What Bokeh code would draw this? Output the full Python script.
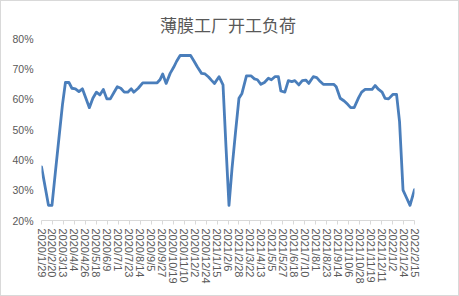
import pandas as pd
from bokeh.plotting import figure
from bokeh.models import Range1d, FixedTicker, PrintfTickFormatter, ColumnDataSource
from bokeh.embed import file_html
from bokeh.resources import INLINE
import math

title_text = "薄膜工厂开工负荷"

dates = [
    "2020-01-29", "2020-02-12", "2020-02-19", "2020-02-26", "2020-03-04", "2020-03-11",
    "2020-03-17", "2020-03-24", "2020-03-30", "2020-04-06", "2020-04-13", "2020-04-20",
    "2020-04-27", "2020-05-04", "2020-05-11", "2020-05-18", "2020-05-25", "2020-06-01",
    "2020-06-08", "2020-06-15", "2020-06-22", "2020-06-29", "2020-07-06", "2020-07-13",
    "2020-07-20", "2020-07-27", "2020-08-01", "2020-08-10", "2020-08-19", "2020-08-26",
    "2020-09-02", "2020-09-09", "2020-09-17", "2020-09-23", "2020-09-28", "2020-10-05",
    "2020-10-13", "2020-10-20", "2020-10-26", "2020-11-02", "2020-11-09", "2020-11-16",
    "2020-11-23", "2020-11-30", "2020-12-07", "2020-12-15", "2020-12-22", "2020-12-29",
    "2021-01-04", "2021-01-10", "2021-01-19", "2021-01-27", "2021-02-02", "2021-02-08",
    "2021-02-14", "2021-02-21", "2021-02-28", "2021-03-06", "2021-03-15", "2021-03-24",
    "2021-03-31", "2021-04-06", "2021-04-13", "2021-04-20", "2021-04-28", "2021-05-04",
    "2021-05-11", "2021-05-18", "2021-05-23", "2021-05-31", "2021-06-07", "2021-06-14",
    "2021-06-20", "2021-06-28", "2021-07-05", "2021-07-12", "2021-07-18", "2021-07-27",
    "2021-08-03", "2021-08-10", "2021-08-16", "2021-08-23", "2021-08-30", "2021-09-06",
    "2021-09-11", "2021-09-19", "2021-09-27", "2021-10-04", "2021-10-10", "2021-10-17",
    "2021-10-26", "2021-11-01", "2021-11-08", "2021-11-15", "2021-11-22", "2021-11-28",
    "2021-12-05", "2021-12-12", "2021-12-18", "2021-12-25", "2022-01-03", "2022-01-10",
    "2022-01-16", "2022-01-23", "2022-01-30", "2022-02-06", "2022-02-15",
]

load_pct = [
    37.7, 25.0, 25.0, 36.2, 47.2, 58.1,
    65.5, 65.5, 63.6, 63.4, 62.5, 63.4,
    60.3, 57.2, 60.3, 62.3, 61.4, 63.2,
    60.1, 60.1, 62.1, 64.1, 63.6, 62.3,
    62.3, 63.4, 62.3, 63.6, 65.4, 65.4,
    65.4, 65.4, 65.4, 66.5, 68.3, 65.2,
    68.5, 70.5, 72.5, 74.4, 74.4, 74.4,
    74.4, 72.5, 70.5, 68.5, 68.3, 67.3,
    66.2, 65.2, 67.4, 64.7, 44.2, 25.0,
    37.0, 49.0, 60.3, 61.9, 67.7, 67.7,
    66.7, 66.4, 64.9, 65.5, 66.9, 66.4,
    67.4, 67.4, 62.7, 62.3, 66.1, 65.8,
    66.1, 64.7, 66.1, 66.3, 65.2, 67.4,
    67.1, 65.8, 64.9, 64.9, 64.9, 64.9,
    64.1, 60.3, 59.4, 58.3, 57.2, 57.2,
    60.5, 62.3, 63.2, 63.2, 63.2, 64.5,
    63.2, 62.3, 60.3, 60.1, 61.6, 61.6,
    52.6, 30.0, 27.5, 25.0, 30.2,
]

tick_labels = [
    "2020/1/29", "2020/2/20", "2020/3/13", "2020/4/4", "2020/4/26", "2020/5/18",
    "2020/6/9", "2020/7/1", "2020/7/23", "2020/8/14", "2020/9/5", "2020/9/27",
    "2020/10/19", "2020/11/10", "2020/12/2", "2020/12/24", "2021/1/15", "2021/2/6",
    "2021/2/28", "2021/3/22", "2021/4/13", "2021/5/5", "2021/5/27", "2021/6/18",
    "2021/7/10", "2021/8/1", "2021/8/23", "2021/9/14", "2021/10/6", "2021/10/28",
    "2021/11/19", "2021/12/11", "2022/1/2", "2022/1/24", "2022/2/15",
]

y_ticks = [20, 30, 40, 50, 60, 70, 80]

origin = pd.Timestamp(tick_labels[0].replace("/", "-"))
def to_day(s):
    return (pd.Timestamp(s.replace("/", "-")) - origin).days

xs = [to_day(d) for d in dates]
tick_pos = [to_day(t) for t in tick_labels]

src = ColumnDataSource(dict(x=xs, y=load_pct))

p = figure(width=459, height=296, output_backend="svg", toolbar_location=None,
           x_range=Range1d(tick_pos[0], tick_pos[-1]),
           y_range=Range1d(y_ticks[0], y_ticks[-1]),
           min_border_left=40, min_border_right=46, min_border_top=37, min_border_bottom=77)

p.line("x", "y", source=src, line_color="#4A7EBB", line_width=2.8, line_join="round", line_cap="round")

p.title.text = title_text
p.title.align = "center"
p.title.text_font = "Noto Sans CJK SC"
p.title.text_font_size = "17px"
p.title.text_font_style = "normal"
p.title.text_color = "#595959"
p.title.standoff = 4

p.outline_line_color = None
p.xgrid.grid_line_color = None
p.ygrid.grid_line_color = None
p.background_fill_color = "white"
p.border_fill_color = "white"

xa = p.xaxis[0]
xa.ticker = FixedTicker(ticks=tick_pos)
xa.major_label_overrides = {tp: lab for tp, lab in zip(tick_pos, tick_labels)}
xa.major_label_orientation = -math.pi / 2
xa.axis_line_color = "#D9D9D9"
xa.major_tick_line_color = "#D9D9D9"
xa.major_tick_in = 0
xa.major_tick_out = 4
xa.minor_tick_line_color = None
xa.major_label_text_font = "Liberation Sans"
xa.major_label_text_font_size = "11px"
xa.major_label_text_color = "#595959"
xa.major_label_standoff = 4

ya = p.yaxis[0]
ya.ticker = FixedTicker(ticks=y_ticks)
ya.formatter = PrintfTickFormatter(format="%d%%")
ya.axis_line_color = None
ya.major_tick_line_color = None
ya.minor_tick_line_color = None
ya.major_tick_in = 0
ya.major_tick_out = 0
ya.major_label_standoff = 8
ya.major_label_text_font = "Liberation Sans"
ya.major_label_text_font_size = "10.5px"
ya.major_label_text_color = "#595959"

p.styles = {"box-sizing": "border-box", "border": "1px solid #D9D9D9"}

open("out.html", "w").write(file_html(p, INLINE))
